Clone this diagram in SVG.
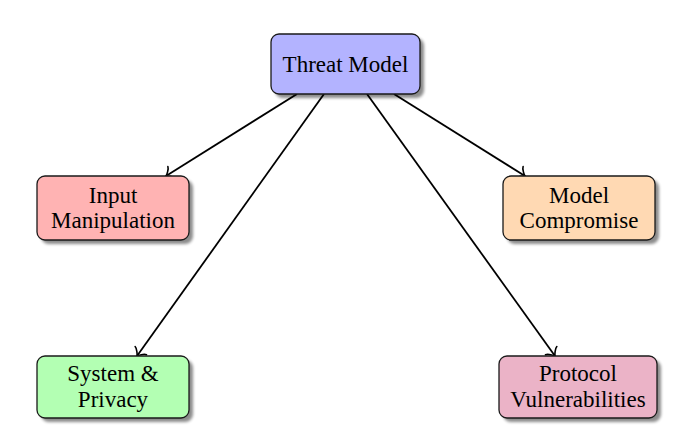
<svg xmlns="http://www.w3.org/2000/svg" width="685" height="441" viewBox="0 0 685 441">
  <style>
    .box { stroke: #1a1a1a; stroke-width: 1.3; }
    .shadow { fill: #000; opacity: 0.45; }
    .label { font-family: "Liberation Serif", "Times New Roman", serif; font-size: 23px; fill: #000; text-anchor: middle; }
    .edge { stroke: #000; stroke-width: 1.8; fill: none; marker-end: url(#to); }
  </style>
  <defs>
    <filter id="blur" x="-20%" y="-20%" width="140%" height="140%">
      <feGaussianBlur stdDeviation="1.6"/>
    </filter>
    <marker id="to" markerUnits="userSpaceOnUse" orient="auto" refX="1.2" refY="0" markerWidth="16" markerHeight="18" viewBox="-7 -9 9 18" overflow="visible">
      <path d="M -5.4,7 C -4.9,4.4 0,0.45 1.2,0 C 0,-0.45 -4.9,-4.4 -5.4,-7" fill="none" stroke="#000" stroke-width="1.6" stroke-linecap="round"/>
    </marker>
  </defs>
  <rect width="685" height="441" fill="#fff"/>

  <g id="connectors">
    <line class="edge" x1="297" y1="94" x2="166" y2="176"/>
    <line class="edge" x1="324" y1="94" x2="137" y2="356"/>
    <line class="edge" x1="367" y1="94" x2="555" y2="356"/>
    <line class="edge" x1="394" y1="94" x2="525" y2="176"/>
  </g>

  <g id="threat-model">
    <rect class="shadow" x="275" y="38" width="149" height="60" rx="8" filter="url(#blur)"/>
    <rect class="box" x="271" y="34" width="149" height="60" rx="8" fill="#b3b3ff"/>
    <text class="label" x="345.5" y="72">Threat Model</text>
  </g>

  <g id="input-manipulation">
    <rect class="shadow" x="41" y="180" width="152" height="64" rx="8" filter="url(#blur)"/>
    <rect class="box" x="37" y="176" width="152" height="64" rx="8" fill="#ffb3b3"/>
    <text class="label" x="113" y="202.5">Input</text>
    <text class="label" x="113" y="228">Manipulation</text>
  </g>

  <g id="model-compromise">
    <rect class="shadow" x="507" y="180" width="152" height="64" rx="8" filter="url(#blur)"/>
    <rect class="box" x="503" y="176" width="152" height="64" rx="8" fill="#ffd9b3"/>
    <text class="label" x="579" y="202.5">Model</text>
    <text class="label" x="579" y="228">Compromise</text>
  </g>

  <g id="system-privacy">
    <rect class="shadow" x="41" y="360" width="152" height="62" rx="8" filter="url(#blur)"/>
    <rect class="box" x="37" y="356" width="152" height="62" rx="8" fill="#b3ffb3"/>
    <text class="label" x="113" y="381">System &amp;</text>
    <text class="label" x="113" y="407">Privacy</text>
  </g>

  <g id="protocol-vulnerabilities">
    <rect class="shadow" x="503" y="360" width="158" height="62" rx="8" filter="url(#blur)"/>
    <rect class="box" x="499" y="356" width="158" height="62" rx="8" fill="#ebb3c7"/>
    <text class="label" x="578" y="381">Protocol</text>
    <text class="label" x="578" y="407">Vulnerabilities</text>
  </g>
</svg>
